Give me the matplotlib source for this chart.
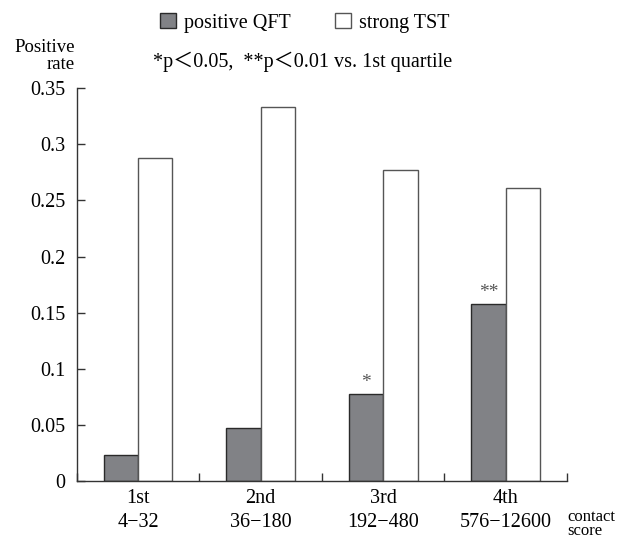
import numpy as np
import matplotlib
matplotlib.use("Agg")
import matplotlib.pyplot as plt

# values
quartiles = ["1st", "2nd", "3rd", "4th"]
score_ranges = ["4\u221232", "36\u2212180", "192\u2212480", "576\u221212600"]
qft = [0.023, 0.047, 0.078, 0.158]
tst = [0.288, 0.333, 0.277, 0.261]
stars = ["", "", "*", "**"]

plt.rcParams['font.family'] = ['Liberation Serif', 'Noto Sans CJK JP', 'DejaVu Serif']

fig = plt.figure(figsize=(6.3, 5.4), dpi=100)
ax = fig.add_axes([0.122, 0.109, 0.778, 0.728])

x = np.arange(len(quartiles))
w = 0.28
b1 = ax.bar(x - w / 2, qft, w, color="#818286", edgecolor="#2a2a2a", linewidth=1.0,
            label="positive QFT")
b2 = ax.bar(x + w / 2, tst, w, color="white", edgecolor="#555555", linewidth=1.0,
            label="strong TST")

for xi, v, s in zip(x, qft, stars):
    if s:
        ax.text(xi - w / 2, v + 0.002, s, ha="center", va="bottom", fontsize=14,
                color="#555555")

ax.set_xlim(-0.5, len(quartiles) - 0.5)
ax.set_ylim(0, 0.35)
ax.set_yticks(np.arange(0, 0.351, 0.05))
ax.set_yticklabels(["0", "0.05", "0.1", "0.15", "0.2", "0.25", "0.3", "0.35"])
ax.set_xticks(x)
ax.set_xticklabels([f"{q}\n{r}" for q, r in zip(quartiles, score_ranges)],
                   linespacing=1.35)
ax.set_xticks(np.arange(-0.5, len(quartiles)), minor=True)
ax.tick_params(axis="x", which="major", length=0, pad=6, labelsize=14.5)
ax.tick_params(axis="x", which="minor", direction="in", length=6, width=1, color="#333333")
ax.tick_params(axis="y", direction="in", length=6, width=1, color="#333333",
               labelsize=14.5, pad=8)

for side in ["top", "right"]:
    ax.spines[side].set_visible(False)
for side in ["left", "bottom"]:
    ax.spines[side].set_color("#333333")
    ax.spines[side].set_linewidth(1.0)

fig.legend(handles=[b1, b2], loc="center left", bbox_to_anchor=(0.238, 0.958),
           ncol=2, frameon=False, fontsize=14.5, handlelength=0.8, handleheight=0.8,
           handletextpad=0.4, columnspacing=2.2, borderpad=0)

fig.text(0.243, 0.885, "*p\uff1c0.05,  **p\uff1c0.01 vs. 1st quartile", fontsize=14.5,
         ha="left", va="center")
fig.text(0.119, 0.897, "Positive\nrate", family="Liberation Serif", fontsize=13.5,
         ha="right", va="center", multialignment="right", linespacing=1.0)
fig.text(0.9, 0.03, "contact\nscore", family="Liberation Serif", fontsize=12,
         ha="left", va="center", linespacing=0.8)

fig.savefig("out.png", dpi=100)
